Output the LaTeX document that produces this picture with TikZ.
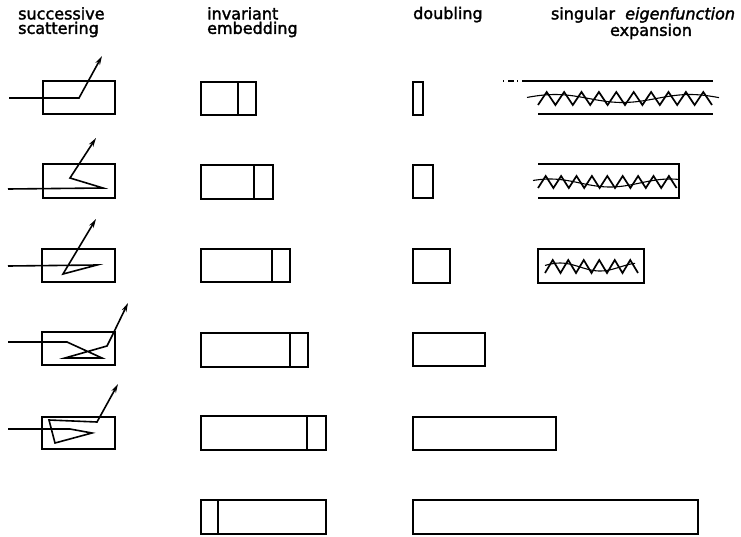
\documentclass[tikz,border=0pt]{standalone}
\usepackage{fontspec}
\setmainfont[FakeBold=2]{DejaVu Sans}
\usetikzlibrary{arrows.meta}

\tikzset{
  slab/.style={line width=2pt},
  ray/.style={line width=1.6pt, line join=miter, -{Stealth[length=9pt,width=5pt]}},
  rim/.style={line width=1.6pt},
  zig/.style={line width=1.7pt, line join=miter},
  wave/.style={line width=1.1pt},
  lbl/.style={inner sep=0pt, font=\fontsize{16}{14.5}\selectfont}
}

\begin{document}
\begin{tikzpicture}[x=1pt,y=-1pt]

% ============================================================
% parameters
% ============================================================

\def\Left{201}     % left edge, invariant embedding
\def\Dbl{413}      % left edge, doubling

\useasboundingbox (0,0) rectangle (741,536);

% ============================================================
% headings
% ============================================================

\node[lbl, align=left, anchor=north west] (scat) at (18,7) {successive\\scattering};
\node[lbl, align=left, anchor=north west] (embe) at (207,7) {invariant\\embedding};
\node[lbl, anchor=base west] (doub) at (413,19) {doubling};
\node[lbl, align=center, anchor=north] (expa) at (643,7) {singular\ \ \itshape eigenfunction\\\hspace*{16pt}expansion};

% ============================================================
% successive scattering
% ============================================================

\draw[slab] (43,81) rectangle (115,114);
\draw[ray] (9,98) -- (79,98) -- (102,56);

\draw[slab] (43,164) rectangle (115,198);
\draw[ray] (8,189) -- (103,188) -- (70,178) -- (96,138);

\draw[slab] (42,249) rectangle (115,282);
\draw[ray] (8,266) -- (97,265) -- (63,274) -- (96,219);

\draw[slab] (42,332) rectangle (115,365);
\draw[ray] (8,342) -- (67,342) -- (102,358) -- (65,358) -- (107,346) -- (112,336) -- (128,303);

\draw[slab] (42,417) rectangle (115,449);
\draw[ray] (8,429) -- (70,429) -- (92,433) -- (55,443) -- (49,420) -- (97,422) -- (118,384);

% ============================================================
% invariant embedding
% ============================================================

\foreach \yt/\yb/\xr/\xd in {82/115/256/238, 165/199/273/254, 249/282/290/272,
                             333/367/308/290, 416/450/326/307, 500/534/326/218} {
  \draw[slab] (\Left,\yt) rectangle (\xr,\yb);
  \draw[slab] (\xd,\yt) -- (\xd,\yb);
}

% ============================================================
% doubling
% ============================================================

\foreach \yt/\yb/\xr in {82/115/423, 165/198/433, 249/283/450,
                         333/366/485, 417/450/556, 500/534/698} {
  \draw[slab] (\Dbl,\yt) rectangle (\xr,\yb);
}

% ============================================================
% singular eigenfunction expansion
% ============================================================

% open slab
\draw[rim, dash pattern=on 1pt off 4pt on 6pt off 3pt] (503,81) -- (522,81);
\draw[rim] (522,81) -- (713,81);
\draw[rim] (538,114) -- (713,114);
\draw[zig] (538,105) \foreach \k in {1,...,10} { -- ++(8.7,-13) -- ++(8.7,13) };
\draw[wave] plot[smooth, domain=527:719, samples=30] (\x,{98.5-4*cos(360/135*(\x-555))});

% half-open slab
\draw[rim] (538,164) -- (679,164) -- (679,198) -- (538,198);
\draw[zig] (538,188) \foreach \k in {1,...,9} { -- ++(7.7,-12) -- ++(7.7,12) };
\draw[wave] plot[smooth, domain=533:679, samples=30] (\x,{183-4*cos(360/120*(\x-550))});

% closed slab
\draw[slab] (538,249) rectangle (644,283);
\draw[zig] (545,273) \foreach \k in {1,...,6} { -- ++(7.75,-13) -- ++(7.75,13) };
\draw[wave] plot[smooth, domain=545:635, samples=30] (\x,{267-4*cos(360/80*(\x-560))});

\end{tikzpicture}
\end{document}
